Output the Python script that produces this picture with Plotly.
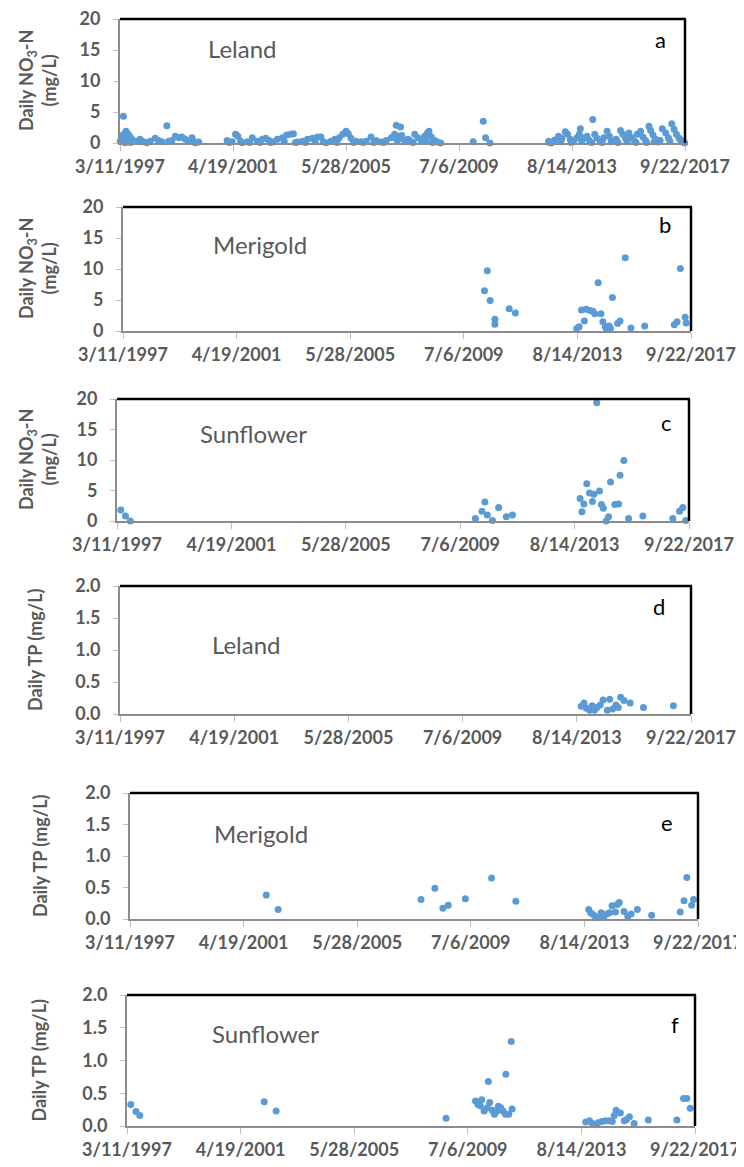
import plotly.graph_objects as go
import pandas as pd

# ---------------- data ----------------
START = "1997-03-11"   # sample dates are given as days after 3/11/1997
tick_labels = ["3/11/1997", "4/19/2001", "5/28/2005", "7/6/2009", "8/14/2013", "9/22/2017"]
no3_ticks = [0, 5, 10, 15, 20]
tp_ticks = [0.0, 0.5, 1.0, 1.5, 2.0]

sites = ["Leland", "Merigold", "Sunflower", "Leland", "Merigold", "Sunflower"]
panel_letters = ["a", "b", "c", "d", "e", "f"]

leland_no3_days = [2, 23, 30, 45, 54, 60, 67, 80, 89, 95, 111, 120, 134, 140, 156, 178, 223, 267, 311, 356,
                   400, 467, 511, 556, 622, 645, 689, 734, 778, 822, 867, 911, 956, 978, 1000, 1045,
                   1422, 1450, 1489, 1534, 1565, 1600, 1622, 1689, 1720, 1756, 1822, 1860, 1889, 1934, 1978,
                   2000, 2036, 2089, 2156, 2180, 2213, 2267, 2302, 2330, 2356, 2422, 2460, 2489, 2556, 2590,
                   2622, 2667, 2700, 2733, 2800, 2853, 2880, 2911, 2956, 3000, 3031, 3067, 3100, 3133, 3200,
                   3230, 3267, 3333, 3370, 3400, 3467, 3500, 3533, 3600, 3644, 3667, 3680, 3698, 3724, 3740,
                   3756, 3800, 3822, 3844, 3866, 3890, 3911, 3955, 4000, 4044, 4060, 4080, 4102, 4133, 4150,
                   4177, 4213, 4257,
                   4688, 4822, 4853, 4911,
                   5689, 5700, 5724, 5769, 5822, 5850, 5866, 5911, 5942, 5977, 5990, 6022, 6066, 6097, 6111,
                   6130, 6155, 6200, 6231, 6260, 6275, 6302, 6333, 6377, 6400, 6422, 6466, 6497, 6520, 6542,
                   6586, 6610, 6644, 6675, 6711, 6730, 6755, 6790, 6830, 6850, 6866, 6911, 6942, 6977, 6990,
                   7022, 7044, 7075, 7090, 7111, 7146, 7170, 7199, 7244, 7279, 7300, 7324, 7355, 7386, 7422,
                   7440, 7457, 7480, 7495]
leland_no3 = [0.3, 0.85, 1.2, 4.3, 1.4, 0.7, 0.05, 1.9, 0.3, 1.0, 1.4, 0.2, 0.95, 0.1, 0.6, 0.2, 0.3, 0.6, 0.2, 0.05,
              0.3, 0.75, 0.4, 0.2, 2.8, 0.3, 0.4, 1.1, 0.85, 0.95, 0.6, 0.3, 0.85, 0.3, 0.05, 0.15,
              0.4, 0.1, 0.2, 1.4, 1.1, 0.3, 0.05, 0.2, 0.1, 0.85, 0.3, 0.1, 0.6, 0.75, 0.4,
              0.1, 0.2, 0.6, 0.85, 0.3, 1.3, 1.4, 1.5, 0.1, 0.15, 0.3, 0.1, 0.6, 0.75, 0.2,
              0.95, 0.95, 0.2, 0.05, 0.3, 0.6, 0.1, 0.85, 1.4, 1.9, 1.5, 0.75, 0.1, 0.3, 0.2,
              0.1, 0.3, 0.95, 0.1, 0.4, 0.15, 0.1, 0.4, 0.85, 1.4, 2.85, 0.5, 1.1, 2.6, 1.2,
              0.6, 0.2, 0.6, 0.4, 0.2, 0.1, 1.4, 0.85, 0.4, 1.1, 0.3, 1.6, 1.9, 0.95, 0.1,
              0.4, 0.15, 0.0,
              0.2, 3.5, 0.85, 0.0,
              0.3, 0.1, 0.0, 0.5, 1.1, 0.2, 0.75, 1.8, 1.4, 0.6, 0.1, 0.2, 0.85, 1.4, 2.3,
              0.3, 0.85, 1.1, 0.4, 0.1, 3.8, 1.4, 0.75, 0.2, 0.1, 0.85, 1.9, 1.1, 0.2, 0.3,
              0.6, 0.1, 2.0, 1.4, 0.75, 0.2, 1.6, 0.85, 0.3, 0.1, 1.4, 1.9, 0.95, 0.4, 0.1,
              2.7, 2.0, 1.3, 0.2, 0.6, 0.15, 0.4, 2.3, 1.6, 0.85, 0.3, 3.1, 2.2, 1.4, 0.75,
              0.5, 0.2, 0.3, 0.0]

merigold_no3_days = [4773, 4810, 4848, 4911, 4911, 5099, 5181, 5991, 6023, 6054, 6092, 6117, 6167, 6205, 6230,
                     6274, 6311, 6337, 6368, 6387, 6418, 6437, 6462, 6531, 6563, 6632, 6707, 6889, 7279, 7316,
                     7360, 7423, 7436]
merigold_no3 = [6.5, 9.7, 4.9, 1.9, 1.1, 3.6, 2.9, 0.4, 0.7, 3.4, 1.6, 3.5, 3.3, 3.2, 2.8,
                7.8, 2.8, 1.5, 0.7, 0.3, 0.8, 0.4, 5.4, 1.2, 1.6, 11.8, 0.5, 0.8, 1.0, 1.5,
                10.1, 2.2, 1.3]

sunflower_no3_days = [50, 112, 175, 4699, 4786, 4824, 4855, 4923, 5004, 5104, 5185, 6072, 6096, 6121, 6159,
                      6196, 6234, 6252, 6290, 6327, 6352, 6377, 6415, 6446, 6471, 6527, 6577, 6596, 6646, 6708,
                      6895, 7288, 7376, 7419, 7457]
sunflower_no3 = [1.8, 0.8, 0.0, 0.4, 1.6, 3.1, 1.0, 0.1, 2.2, 0.7, 1.0, 3.7, 1.5, 2.8, 6.1,
                 4.6, 3.2, 4.4, 19.4, 4.9, 2.7, 2.1, 0.0, 0.7, 6.4, 2.7, 2.8, 7.5, 9.9, 0.4,
                 0.8, 0.4, 1.6, 2.2, 0.1]

leland_tp_days = [6058, 6095, 6126, 6170, 6201, 6233, 6264, 6307, 6345, 6401, 6432, 6470, 6513, 6545, 6576,
                  6620, 6701, 6876, 7269]
leland_tp = [0.12, 0.17, 0.09, 0.06, 0.13, 0.06, 0.10, 0.14, 0.22, 0.06, 0.23, 0.08, 0.14, 0.10, 0.26,
             0.21, 0.17, 0.10, 0.13]

merigold_tp_days = [1799, 1956, 3843, 4026, 4132, 4202, 4428, 4774, 5095, 6057, 6082, 6114, 6145, 6183, 6221,
                    6259, 6296, 6334, 6365, 6410, 6435, 6460, 6523, 6573, 6617, 6699, 6888, 7265, 7315, 7353,
                    7416, 7441]
merigold_tp = [0.38, 0.15, 0.31, 0.49, 0.17, 0.22, 0.32, 0.65, 0.28, 0.15, 0.10, 0.07, 0.04, 0.02, 0.10,
               0.04, 0.08, 0.10, 0.21, 0.11, 0.23, 0.26, 0.12, 0.04, 0.08, 0.15, 0.06, 0.11, 0.29, 0.66,
               0.22, 0.31]

sunflower_tp_days = [50, 119, 169, 1812, 1969, 4213, 4602, 4634, 4665, 4684, 4715, 4759, 4771, 4790, 4822,
                     4853, 4884, 4903, 4934, 4966, 5003, 4997, 5041, 5073, 5085, 6057, 6107, 6145, 6182, 6220,
                     6270, 6320, 6370, 6408, 6433, 6458, 6515, 6565, 6596, 6634, 6696, 6884, 7261, 7349, 7393,
                     7437]
sunflower_tp = [0.33, 0.22, 0.16, 0.37, 0.23, 0.12, 0.38, 0.33, 0.31, 0.40, 0.23, 0.28, 0.68, 0.36, 0.24,
                0.18, 0.23, 0.30, 0.28, 0.23, 0.79, 0.18, 0.18, 1.29, 0.26, 0.06, 0.08, 0.04, 0.02, 0.05,
                0.07, 0.08, 0.08, 0.07, 0.16, 0.24, 0.20, 0.08, 0.10, 0.14, 0.04, 0.09, 0.09, 0.42, 0.42,
                0.27]

# ---------------- figure ----------------
OFF = 8                      # page body margin: the figure starts 8 px in from the window corner
W, H = 744 - OFF, 1167 - OFF
BLUE = "#5B9BD5"
GRAY_TXT = "#595959"
AXIS_GRAY = "#8c8c8c"
FONT = "Lato, 'Open Sans', sans-serif"

def px(xp):   # window pixel -> paper x
    return (xp - OFF) / W

def py(yp):   # window pixel -> paper y
    return 1 - (yp - OFF) / H

def to_dates(days):
    return pd.Timestamp(START) + pd.to_timedelta(days, unit="D")

tick_vals = pd.to_datetime(tick_labels, format="%m/%d/%Y")
date_text = [f"<b>{s}</b>" for s in tick_labels]

series = [
    (leland_no3_days, leland_no3), (merigold_no3_days, merigold_no3), (sunflower_no3_days, sunflower_no3),
    (leland_tp_days, leland_tp), (merigold_tp_days, merigold_tp), (sunflower_tp_days, sunflower_tp),
]
# window-pixel boxes (left, top, right, bottom) of each plot area
boxes = [(120, 19, 685, 143), (123, 207, 691, 331), (117, 399, 689, 521),
         (120, 586, 691, 714), (130, 793, 698, 919), (127, 995, 695, 1126)]
site_pos = [(242, 49), (260, 245), (253, 433), (246, 644), (261, 833), (265, 1033)]
letter_pos = [(660, 40), (665, 225), (666, 422), (659, 607), (667, 822), (675, 1024)]
ytitle_x = [37, 37, 37, 35, 40, 38]

fig = go.Figure()
annotations = []
shapes = []

for i, ((days, vals), (l, t, r, b)) in enumerate(zip(series, boxes)):
    n = i + 1
    xa = "x" if n == 1 else f"x{n}"
    ya = "y" if n == 1 else f"y{n}"
    fig.add_trace(go.Scatter(
        x=to_dates(days), y=vals, mode="markers", xaxis=xa, yaxis=ya,
        marker=dict(color=BLUE, size=7, line=dict(width=0)),
        cliponaxis=False, showlegend=False, hoverinfo="skip"))

    is_tp = i >= 3
    yt = tp_ticks if is_tp else no3_ticks
    ytext = [f"<b>{v:.1f}</b>" if is_tp else f"<b>{v}</b>" for v in yt]
    xkey = "xaxis" if n == 1 else f"xaxis{n}"
    ykey = "yaxis" if n == 1 else f"yaxis{n}"
    fig.update_layout(**{
        xkey: dict(
            domain=[px(l), px(r)], anchor=ya, type="date", automargin=False,
            range=[tick_vals[0], tick_vals[-1]],
            tickvals=tick_vals, ticktext=date_text, ticklabeloverflow="allow",
            showgrid=False, zeroline=False,
            showline=True, linecolor=AXIS_GRAY, linewidth=2,
            ticks="outside", ticklen=6, tickwidth=1, tickcolor="#bfbfbf",
            tickfont=dict(family=FONT, size=18, color=GRAY_TXT),
        ),
        ykey: dict(
            domain=[py(b), py(t)], anchor=xa, automargin=False,
            range=[yt[0], yt[-1]],
            tickvals=yt, ticktext=ytext, ticklabeloverflow="allow",
            showgrid=False, zeroline=False,
            showline=True, linecolor=AXIS_GRAY, linewidth=2,
            ticks="outside", ticklen=5, tickwidth=1, tickcolor="#bfbfbf",
            ticklabelstandoff=9,
            tickfont=dict(family=FONT, size=18, color=GRAY_TXT),
        ),
    })
    # black top and right border of the plot area
    shapes.append(dict(type="line", xref="paper", yref="paper", x0=px(l), x1=px(r + 1),
                       y0=py(t), y1=py(t), line=dict(color="black", width=2.5), layer="above"))
    shapes.append(dict(type="line", xref="paper", yref="paper", x0=px(r), x1=px(r),
                       y0=py(t), y1=py(b), line=dict(color="black", width=2.5), layer="above"))

    # y-axis title
    ytxt = "<b>Daily TP (mg/L)</b>" if is_tp else "<b>Daily NO<sub>3</sub>-N</b><br><b>(mg/L)</b>"
    annotations.append(dict(
        text=ytxt, xref="paper", yref="paper", x=px(ytitle_x[i]), y=py((t + b) / 2),
        xanchor="center", yanchor="middle", textangle=-90, showarrow=False,
        font=dict(family=FONT, size=18, color=GRAY_TXT)))
    # site label
    sx, sy = site_pos[i]
    annotations.append(dict(
        text=sites[i], xref="paper", yref="paper", x=px(sx), y=py(sy),
        xanchor="center", yanchor="middle", showarrow=False,
        font=dict(family=FONT, size=24, color=GRAY_TXT)))
    # panel letter
    lx, ly = letter_pos[i]
    annotations.append(dict(
        text=panel_letters[i], xref="paper", yref="paper", x=px(lx), y=py(ly),
        xanchor="center", yanchor="middle", showarrow=False,
        font=dict(family=FONT, size=22, color="black")))

fig.update_layout(
    template="none",
    width=W, height=H, margin=dict(l=0, r=0, t=0, b=0, autoexpand=False),
    paper_bgcolor="white", plot_bgcolor="white",
    annotations=annotations, shapes=shapes,
)

fig.write_html("out.html")
